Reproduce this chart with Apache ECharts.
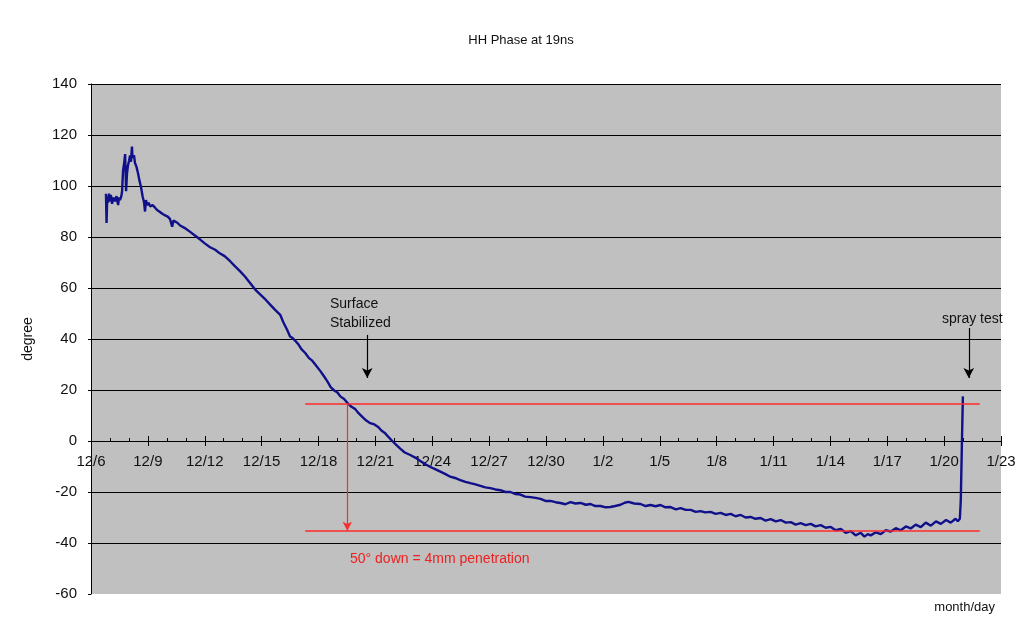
<!DOCTYPE html>
<html>
<head>
<meta charset="utf-8">
<script src="https://cdn.jsdelivr.net/npm/echarts@6/dist/echarts.min.js"></script>
<style>html,body{margin:0;padding:0;background:#fff;}#c{width:1032px;height:618px;}</style>
</head>
<body>
<div id="c"></div>
<script>
// Day offsets counted from 12/6 (x axis), values in degrees
const days = [
0.79,0.82,0.86,0.90,0.95,1.00,1.05,1.11,1.18,1.27,1.35,1.43,1.48,1.53,1.60,1.64,1.69,1.75,1.80,1.83,
1.85,1.90,1.95,2.01,2.06,2.11,2.16,2.19,2.22,2.27,2.32,2.40,2.48,2.56,2.64,2.72,2.80,2.85,2.90,2.96,
3.04,3.12,3.25,3.38,3.50,3.64,3.78,3.91,4.05,4.17,4.28,4.35,4.44,4.57,4.70,4.95,5.23,5.50,5.76,6.00,
6.28,6.55,6.81,7.05,7.34,7.60,7.87,8.12,8.39,8.65,8.92,9.20,9.45,9.70,9.98,10.15,10.35,10.50,10.61,10.75,
10.93,11.10,11.30,11.50,11.67,11.88,12.09,12.28,12.46,12.65,12.83,13.00,13.15,13.35,13.52,13.72,13.94,14.10,14.31,14.52,
14.73,14.95,15.15,15.33,15.52,15.70,15.89,16.10,16.31,16.55,16.84,17.10,17.37,17.62,17.90,18.15,18.43,18.70,18.95,19.20,
19.48,19.75,20.01,20.28,20.54,20.80,21.07,21.33,21.59,21.86,22.12,22.40,22.65,22.90,23.18,23.45,23.71,23.97,24.23,24.50,
24.76,25.02,25.29,25.55,25.82,26.10,26.35,26.60,26.87,27.15,27.40,27.65,27.93,28.15,28.35,28.65,28.99,29.25,29.51,29.78,
30.04,30.30,30.57,30.85,31.10,31.37,31.63,31.90,32.15,32.40,32.68,32.95,33.21,33.48,33.74,34.00,34.27,34.53,34.79,35.05,
35.32,35.58,35.85,36.12,36.38,36.65,36.91,37.17,37.43,37.70,37.96,38.22,38.49,38.75,39.02,39.28,39.55,39.81,40.07,40.33,
40.60,40.80,40.97,41.13,41.40,41.66,41.92,42.19,42.45,42.71,42.98,43.24,43.50,43.77,44.03,44.30,44.57,44.83,45.10,45.35,
45.60,45.72,45.83,45.88,45.94,45.99
];
const phase = [
97.0,85.5,96.0,93.5,97.0,94.0,96.5,93.0,95.5,94.0,96.0,92.5,95.5,94.5,96.0,98.0,106.0,109.0,112.5,104.0,
98.0,105.0,108.0,110.0,112.0,109.5,115.5,111.0,110.5,112.0,109.0,107.5,105.0,102.0,99.5,96.0,93.5,90.0,94.5,92.5,
93.5,92.0,92.5,91.5,90.5,89.8,89.0,88.5,88.0,87.0,84.0,86.5,86.5,85.5,84.5,83.5,82.0,80.5,79.0,77.5,
76.0,75.0,73.5,72.5,70.5,68.5,66.5,64.5,62.0,59.5,57.5,55.5,53.5,51.5,49.5,46.5,43.5,41.0,40.5,39.5,
38.0,36.0,34.5,32.5,31.5,29.5,27.5,25.5,23.5,21.0,19.8,19.0,17.5,16.5,15.0,13.5,12.5,11.0,9.5,8.0,
7.0,6.5,5.5,4.0,3.0,1.5,0.0,-1.5,-3.0,-4.5,-5.5,-6.5,-7.8,-9.0,-10.2,-11.0,-12.0,-13.0,-14.0,-14.5,
-15.3,-16.0,-16.5,-17.0,-17.6,-18.2,-18.5,-19.0,-19.3,-20.0,-20.0,-20.8,-21.0,-21.8,-22.0,-22.3,-22.7,-23.5,-23.5,-24.0,
-24.3,-24.8,-24.0,-24.5,-24.3,-25.0,-24.7,-25.5,-25.5,-26.0,-25.9,-25.5,-25.0,-24.2,-23.9,-24.5,-24.7,-25.5,-25.1,-25.6,
-25.1,-26.0,-25.9,-26.8,-26.3,-27.0,-27.0,-27.8,-27.5,-28.0,-27.8,-28.6,-28.2,-29.0,-28.6,-29.5,-29.0,-30.0,-29.8,-30.5,
-30.2,-31.2,-30.6,-31.5,-31.0,-32.0,-31.8,-32.8,-32.2,-33.0,-32.5,-33.5,-33.0,-34.0,-33.7,-35.0,-34.5,-36.0,-35.3,-37.0,
-36.0,-37.5,-36.5,-37.0,-35.8,-36.5,-35.0,-35.5,-34.2,-35.0,-33.5,-34.3,-32.8,-33.8,-32.0,-33.2,-31.5,-32.5,-31.0,-32.0,
-30.5,-31.5,-30.5,-23.0,0.0,17.5
];
// axis settings
const xMin = 0, xMax = 48, xStep = 3;      // 12/6 .. 1/23, every 3 days
const yMin = -60, yMax = 140, yStep = 20;
const startMonth = 12, startDay = 6;

// annotation values
const redTop = 14.6, redBottom = -35.2;
const redSpan = [11.3, 46.88];
const redArrowDay = 13.52;
const surfaceArrow = {day: 14.57, from: 41.6, to: 24.7};
const sprayArrow = {day: 46.3, from: 44.3, to: 24.7};

function dayLabel(v) {
  const d = new Date(2006, startMonth - 1, startDay);
  d.setDate(d.getDate() + Math.round(v));
  return (d.getMonth() + 1) + '/' + d.getDate();
}

const seriesData = days.map((d, i) => [d, phase[i]]);
const FONT = 'Liberation Sans, Arial, sans-serif';

const GRID = {left: 91, right: 31, top: 84, bottom: 24};
const gridHeight = 618 - GRID.top - GRID.bottom;
const zeroOffset = -gridHeight * (0 - yMin) / (yMax - yMin);

const chart = echarts.init(document.getElementById('c'), null, {renderer: 'canvas'});
chart.setOption({
  animation: false,
  backgroundColor: '#ffffff',
  grid: Object.assign({show: true, backgroundColor: '#c0c0c0', borderWidth: 0}, GRID),
  xAxis: [{
    type: 'value', min: xMin, max: xMax, interval: xStep, position: 'bottom',
    axisLine: {onZero: true, lineStyle: {color: '#000', width: 1}},
    axisTick: {show: true, inside: true, length: 5, lineStyle: {color: '#000'}},
    minorTick: {show: true, splitNumber: 3, length: 3, lineStyle: {color: '#000'}},
    splitLine: {show: false},
    axisLabel: {show: false}
  }, {
    type: 'value', min: xMin, max: xMax, interval: xStep, position: 'bottom', offset: zeroOffset,
    axisLine: {show: false, onZero: false},
    axisTick: {show: true, inside: false, length: 5, lineStyle: {color: '#000'}},
    splitLine: {show: false},
    axisLabel: {formatter: dayLabel, color: '#111', fontSize: 15, fontFamily: FONT, margin: 13, showMinLabel: true, showMaxLabel: true}
  }],
  yAxis: {
    type: 'value', min: yMin, max: yMax, interval: yStep,
    name: 'degree', nameLocation: 'middle', nameRotate: 90, nameGap: 56,
    nameTextStyle: {color: '#111', fontSize: 14, fontFamily: FONT},
    axisLine: {show: true, lineStyle: {color: '#000', width: 1}},
    axisTick: {show: true, length: 3, lineStyle: {color: '#000'}},
    splitLine: {show: true, showMinLine: false, lineStyle: {color: '#000', width: 1}},
    axisLabel: {color: '#111', fontSize: 15, fontFamily: FONT, margin: 14}
  },
  series: [{
    type: 'line', xAxisIndex: 0, data: seriesData, showSymbol: false, symbol: 'none',
    lineStyle: {color: '#10108a', width: 2.4}, z: 3,
    markLine: {
      silent: true, symbol: ['none', 'none'], label: {show: false}, animation: false,
      data: [
        [{coord: [redSpan[0], redTop], lineStyle: {color: '#ff2a2a', width: 1.5, type: 'solid'}}, {coord: [redSpan[1], redTop]}],
        [{coord: [redSpan[0], redBottom], lineStyle: {color: '#ff2a2a', width: 1.5, type: 'solid'}}, {coord: [redSpan[1], redBottom]}],
        [{coord: [redArrowDay, redTop], symbol: 'none', lineStyle: {color: '#ff2a2a', width: 1.2, type: 'solid'}}, {coord: [redArrowDay, redBottom], symbol: 'arrow', symbolSize: [7, 9]}],
        [{coord: [surfaceArrow.day, surfaceArrow.from], symbol: 'none', lineStyle: {color: '#000', width: 1.2, type: 'solid'}}, {coord: [surfaceArrow.day, surfaceArrow.to], symbol: 'arrow', symbolSize: [8, 10]}],
        [{coord: [sprayArrow.day, sprayArrow.from], symbol: 'none', lineStyle: {color: '#000', width: 1.2, type: 'solid'}}, {coord: [sprayArrow.day, sprayArrow.to], symbol: 'arrow', symbolSize: [8, 10]}]
      ]
    }
  }],
  graphic: [
    {type: 'text', x: 521, y: 40, style: {text: 'HH Phase at 19ns', fill: '#111', font: '13px ' + FONT, textAlign: 'center', textVerticalAlign: 'middle'}},
    {type: 'text', x: 330, y: 304, style: {text: 'Surface', fill: '#111', font: '14px ' + FONT, textAlign: 'left', textVerticalAlign: 'middle'}},
    {type: 'text', x: 330, y: 323, style: {text: 'Stabilized', fill: '#111', font: '14px ' + FONT, textAlign: 'left', textVerticalAlign: 'middle'}},
    {type: 'text', x: 942, y: 319, style: {text: 'spray test', fill: '#111', font: '14px ' + FONT, textAlign: 'left', textVerticalAlign: 'middle'}},
    {type: 'text', x: 350, y: 559, style: {text: '50° down = 4mm penetration', fill: '#ee2020', font: '14px ' + FONT, textAlign: 'left', textVerticalAlign: 'middle'}},
    {type: 'text', x: 995, y: 607, style: {text: 'month/day', fill: '#111', font: '13px ' + FONT, textAlign: 'right', textVerticalAlign: 'middle'}}
  ]
});
</script>
</body>
</html>
